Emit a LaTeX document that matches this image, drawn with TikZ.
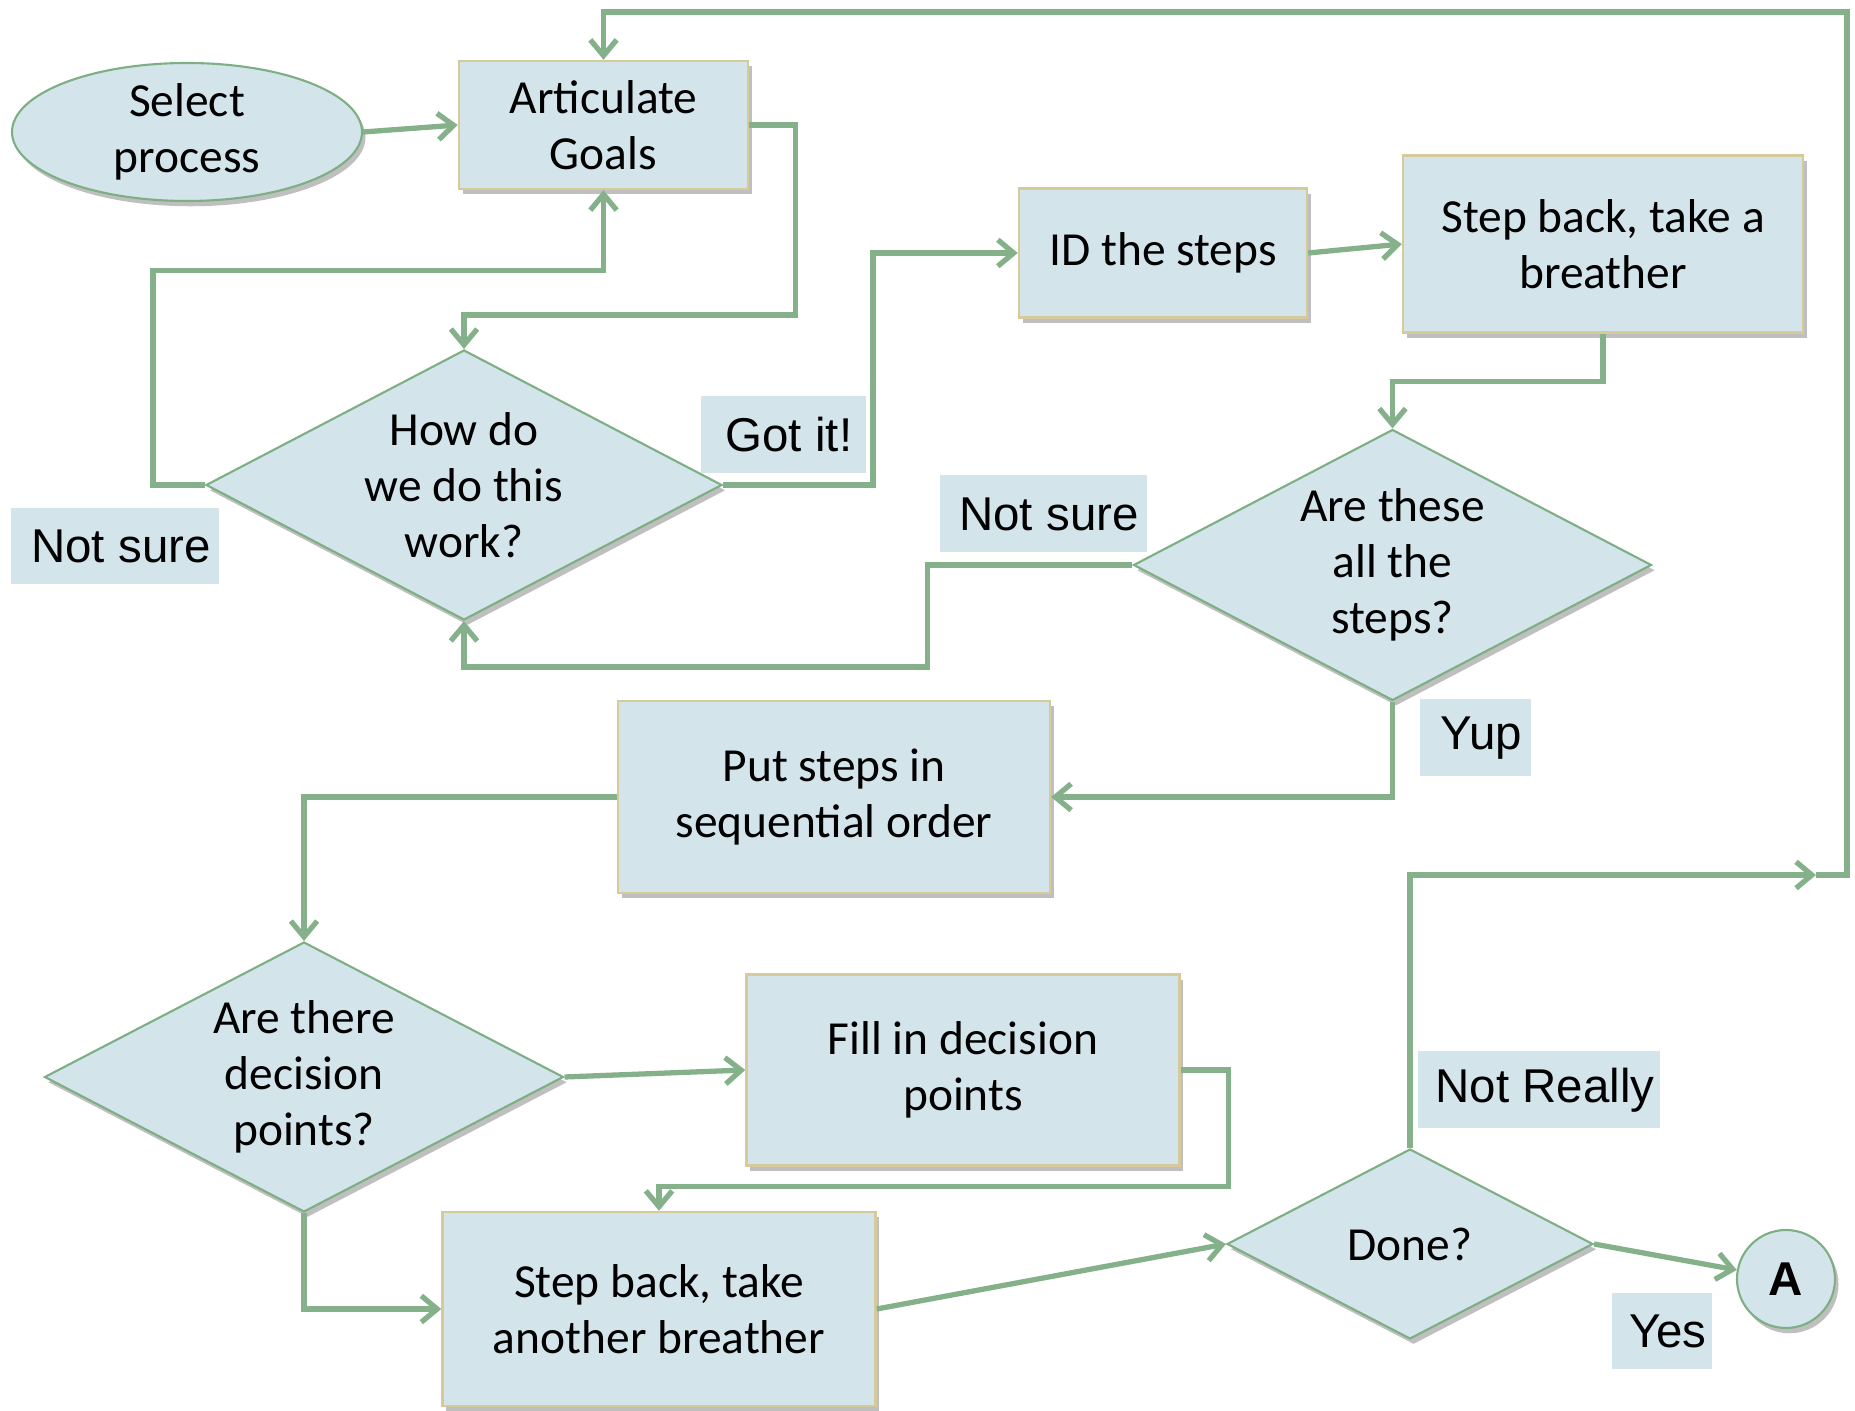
\documentclass[tikz,border=0pt]{standalone}
\usepackage{fontspec}
\setmainfont{Carlito}
\newfontfamily\labelfont{Liberation Sans}
\usetikzlibrary{arrows.meta, positioning, shapes.geometric, shadows}
\definecolor{boxfill}{HTML}{D3E5EB}
\definecolor{flow}{HTML}{84B18A}
\definecolor{boxline}{HTML}{D6CA9B}
\definecolor{shapeline}{HTML}{7EAE84}

\begin{document}
\begin{tikzpicture}[
    softshadow/.style={drop shadow={shadow xshift=1pt, shadow yshift=-1.5pt,
      opacity=0.25, fill=black}},
    stepbox/.style={draw=boxline, line width=0.7pt, fill=boxfill, align=center,
      inner sep=0pt, font=\fontsize{13.5}{16}\selectfont, softshadow},
    query/.style={diamond, aspect=1.9, draw=shapeline, line width=0.6pt,
      fill=boxfill, inner sep=0pt, align=center,
      font=\fontsize{13.5}{16}\selectfont, softshadow},
    terminal/.style={ellipse, draw=shapeline, line width=0.6pt, fill=boxfill,
      inner sep=0pt, align=center, font=\fontsize{13.5}{16}\selectfont,
      softshadow},
    offpage/.style={circle, draw=shapeline, line width=0.6pt, fill=boxfill,
      inner sep=0pt, font=\labelfont\bfseries\fontsize{13.5}{16}\selectfont,
      softshadow},
    answer/.style={fill=boxfill, inner sep=0pt,
      font=\labelfont\fontsize{13.5}{16}\selectfont,
      execute at begin node=\hspace*{3.4pt}},
    conn/.style={-{Straight Barb[length=4.5pt,width=7.5pt]}, line width=1.5pt,
      flow},
  ]
  \useasboundingbox (0,0) rectangle (18.55,14.11);
  % Start and goals
  \node[terminal, minimum width=3.5cm, minimum height=1.38cm] (sel)
        at (1.87,12.79) {Select\\process};
  \node[stepbox, minimum width=2.89cm, minimum height=1.28cm] (art)
        at (6.035,12.86) {Articulate\\Goals};
  \node[query, minimum width=5.16cm, minimum height=2.70cm] (how)
        at (4.64,9.26) {How do\\we do this\\work?};
  % Steps
  \node[stepbox, minimum width=2.88cm, minimum height=1.29cm] (ids)
        at (11.63,11.58) {ID the steps};
  \node[stepbox, minimum width=4.00cm, minimum height=1.77cm] (pause)
        at (16.03,11.67) {Step back, take a\\breather};
  \node[query, minimum width=5.18cm, minimum height=2.71cm] (allsteps)
        at (13.925,8.46) {Are these\\all the\\steps?};
  \node[stepbox, minimum width=4.32cm, minimum height=1.92cm] (order)
        at (8.34,6.14) {Put steps in\\sequential order};
  % Decision points
  \node[query, minimum width=5.19cm, minimum height=2.70cm] (decide)
        at (3.04,3.34) {Are there\\decision\\points?};
  \node[stepbox, minimum width=4.33cm, minimum height=1.91cm] (fillin)
        at (9.63,3.41) {Fill in decision\\points};
  \node[stepbox, minimum width=4.33cm, minimum height=1.94cm] (pause2)
        at (6.59,1.02) {Step back, take\\another breather};
  \node[query, minimum width=3.66cm, minimum height=1.90cm] (done)
        at (14.10,1.67) {Done?};
  \node[offpage, minimum size=0.98cm] (a) at (17.86,1.32) {A};
  % Answers
  \node[answer, minimum width=2.07cm, minimum height=0.76cm] (unsure1)
        at (1.15,8.65) {Not sure};
  \node[answer, minimum width=1.65cm, minimum height=0.77cm] (gotit)
        at (7.83,9.76) {Got it!};
  \node[answer, minimum width=2.07cm, minimum height=0.77cm] (unsure2)
        at (10.43,8.97) {Not sure};
  \node[answer, minimum width=1.11cm, minimum height=0.77cm] (yup)
        at (14.75,6.73) {Yup};
  \node[answer, minimum width=2.42cm, minimum height=0.77cm] (notreally)
        at (15.39,3.21) {Not Really};
  \node[answer, minimum width=1.00cm, minimum height=0.76cm] (yes)
        at (16.62,0.80) {Yes};
  % Loop-back points
  \coordinate (turn) at (18.16,5.36);
  \coordinate (corner) at (18.47,13.99);
  % Arrows
  \draw[conn] (sel.east) -- (art.west);
  \draw[conn] (art.east) -| ++(0.46,-1.9) -| (how.north);
  \draw[conn] (how.west) -- ++(-0.52,0) |- ([yshift=-0.8cm]art.south)
        -- (art.south);
  \draw[conn] (how.east) -- ++(1.5,0) |- (ids.west);
  \draw[conn] (ids.east) -- (pause.west);
  \draw[conn] (pause.south) -- ++(0,-0.48) -| (allsteps.north);
  \draw[conn] (allsteps.west) -- ++(-2.05,0) |- ([yshift=-0.46cm]how.south)
        -- (how.south);
  \draw[conn] (allsteps.south) |- (order.east);
  \draw[conn] (order.west) -| (decide.north);
  \draw[conn] (decide.east) -- (fillin.west);
  \draw[conn] (fillin.east) -- ++(0.48,0) |- ([yshift=0.24cm]pause2.north)
        -- (pause2.north);
  \draw[conn] (decide.south) |- (pause2.west);
  \draw[conn] (pause2.east) -- (done.west);
  \draw[conn] (done.east) -- (a);
  \draw[conn] (done.north) |- (turn);
  \draw[conn] (turn) -| (corner) -| (art.north);
\end{tikzpicture}
\end{document}
